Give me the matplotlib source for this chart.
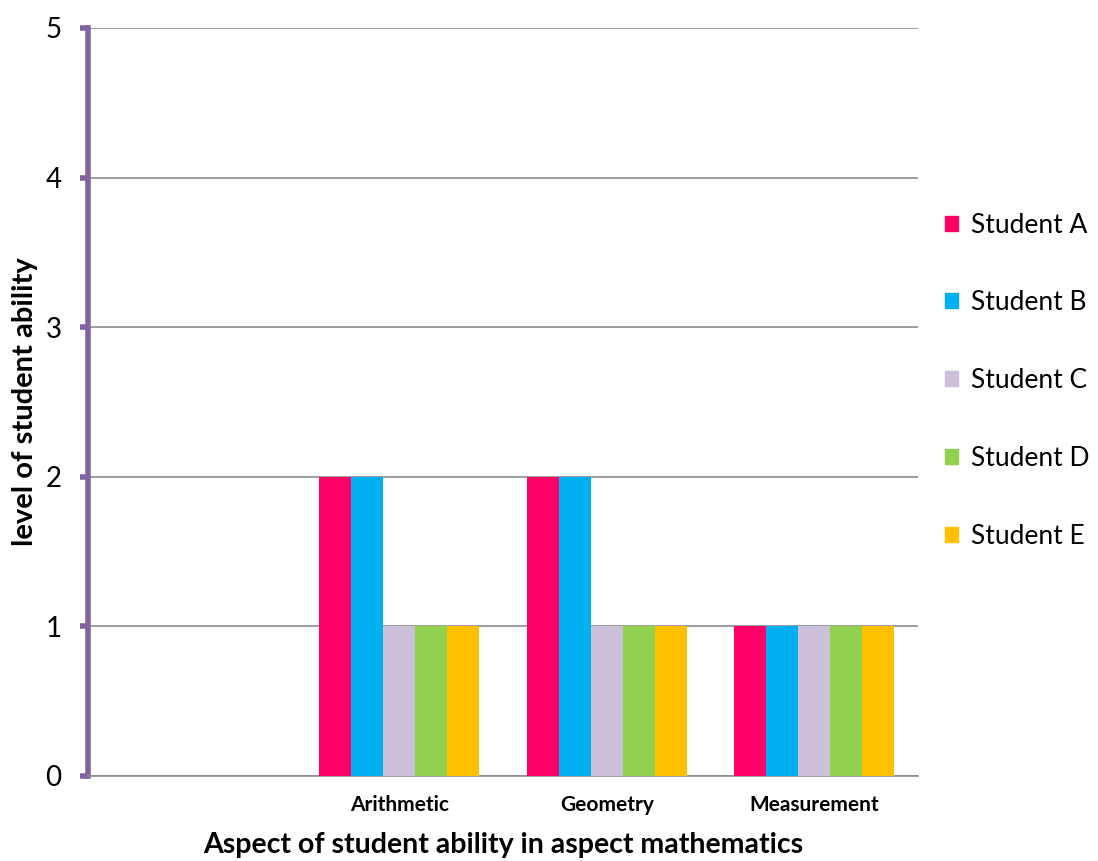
import matplotlib
matplotlib.use("Agg")
import matplotlib.pyplot as plt
import numpy as np
from matplotlib.patches import Patch

categories = ["", "Arithmetic", "Geometry", "Measurement"]
students = ["Student A", "Student B", "Student C", "Student D", "Student E"]
student_a = [0, 2, 2, 1]
student_b = [0, 2, 2, 1]
student_c = [0, 1, 1, 1]
student_d = [0, 1, 1, 1]
student_e = [0, 1, 1, 1]
series = [student_a, student_b, student_c, student_d, student_e]
colors = ["#FF0066", "#00B0F0", "#CCC0DA", "#92D050", "#FFC000"]

plt.rcParams['font.family'] = ['Lato', 'DejaVu Sans']

fig = plt.figure(figsize=(10.98, 8.61), dpi=100)
ax = fig.add_axes([88/1098, 1 - 776/861, (918-88)/1098, (776-28)/861])

x = np.arange(len(categories))
bw = 0.77 / 5
for i, (vals, c, name) in enumerate(zip(series, colors, students)):
    ax.bar(x - 0.385 + bw * (i + 0.5), vals, width=bw, color=c, label=name, zorder=3)

ax.set_xlim(-0.5, len(categories) - 0.5)
ax.set_ylim(0, 5)
ax.set_yticks(range(6))
ax.yaxis.grid(True, color="#8c8c8c", linewidth=1.2, zorder=0)
ax.set_axisbelow(True)
for s in ["top", "right"]:
    ax.spines[s].set_visible(False)
ax.spines["bottom"].set_color("#8c8c8c")
ax.spines["bottom"].set_linewidth(1.2)
ax.spines["left"].set_color("#8064A2")
ax.spines["left"].set_linewidth(4)
ax.tick_params(axis="y", color="#8064A2", width=4, length=6, labelsize=20, pad=13)
ax.tick_params(axis="x", length=0, labelsize=15, pad=14)
ax.set_xticks(x)
ax.set_xticklabels(categories, fontweight="bold")

ax.set_xlabel("Aspect of student ability in aspect mathematics", fontsize=20.5,
              fontweight="bold", labelpad=12)
ax.set_ylabel("level of student ability", fontsize=21, fontweight="bold")
ax.yaxis.set_label_coords(-(88 - 38) / 830, 0.5)

handles = [Patch(color=c) for c in colors]
fig.legend(handles, students, loc="upper left", bbox_to_anchor=(934/1098, 1 - 202/861),
           borderaxespad=0, frameon=False, fontsize=19, handlelength=0.5, handleheight=0.5,
           labelspacing=2.0, handletextpad=0.5)

fig.savefig("out.png", dpi=100)
